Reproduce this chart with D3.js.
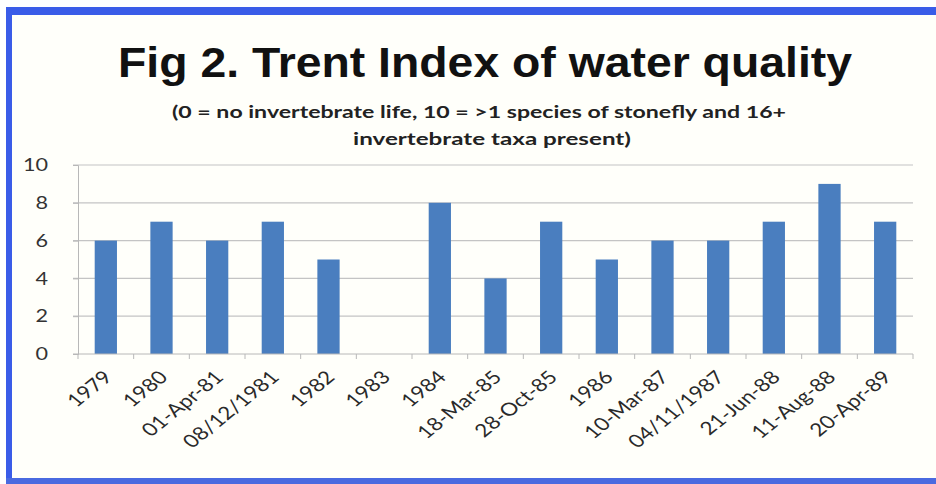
<!DOCTYPE html>
<html>
<head>
<meta charset="utf-8">
<script src="https://cdn.jsdelivr.net/npm/d3@7"></script>
<style>
  html, body { margin: 0; padding: 0; background: #ffffff; }
  svg { display: block; }
</style>
</head>
<body>
<svg id="chart" width="936" height="484"></svg>
<script>
const categories = ["1979", "1980", "01-Apr-81", "08/12/1981", "1982", "1983", "1984", "18-Mar-85", "28-Oct-85", "1986", "10-Mar-87", "04/11/1987", "21-Jun-88", "11-Aug-88", "20-Apr-89"];
const values = [6, 7, 6, 7, 5, null, 8, 4, 7, 5, 6, 6, 7, 9, 7];
const yTicks = [0, 2, 4, 6, 8, 10];
const titleText = "Fig 2. Trent Index of water quality";
const subtitleLines = ["(0 = no invertebrate life, 10 = >1 species of stonefly and 16+", "invertebrate taxa present)"];

const svg = d3.select("#chart");
const W = 936, H = 484;
const LABEL_FONT = "Lato, Calibri, sans-serif";

// frame
svg.append("rect").attr("x", 0).attr("y", 0).attr("width", W).attr("height", H).attr("fill", "#ffffff");
svg.append("rect").attr("x", 6).attr("y", 7).attr("width", W - 6).attr("height", 8).attr("fill", "#3a5ce8");
svg.append("rect").attr("x", 6).attr("y", 7).attr("width", 6).attr("height", H - 7).attr("fill", "#3a5ce8");
svg.append("rect").attr("x", 6).attr("y", 478).attr("width", W - 6).attr("height", 6).attr("fill", "#4a6ae0");
svg.append("rect").attr("x", 12).attr("y", 15).attr("width", W - 12).attr("height", 463).attr("fill", "#fffffa");

const plotL = 78, plotR = 913, plotT = 165, plotB = 354;
const x = d3.scaleBand().domain(categories).range([plotL, plotR]).paddingInner(0.6).paddingOuter(0.3);
const xTickScale = d3.scaleBand().domain(categories).range([plotL, plotR]);
const y = d3.scaleLinear().domain([0, 10]).range([plotB, plotT]);

// title
svg.append("text").attr("x", 485).attr("y", 77).attr("text-anchor", "middle")
  .attr("font-family", "Liberation Sans, Arial, sans-serif").attr("font-weight", "bold")
  .attr("font-size", 43).attr("fill", "#111")
  .attr("textLength", 734).attr("lengthAdjust", "spacingAndGlyphs").text(titleText);
const subW = [614, 278];
const subX = [479, 492];
subtitleLines.forEach((t, i) => {
  svg.append("text").attr("x", subX[i]).attr("y", 118 + i * 27).attr("text-anchor", "middle")
    .attr("font-family", LABEL_FONT).attr("font-weight", "bold")
    .attr("font-size", 17).attr("fill", "#222")
    .attr("textLength", subW[i]).attr("lengthAdjust", "spacingAndGlyphs").text(t);
});

// gridlines
svg.append("g").selectAll("line").data(yTicks.filter(d => d > 0)).join("line")
  .attr("x1", plotL - 5).attr("x2", plotR)
  .attr("y1", d => y(d)).attr("y2", d => y(d))
  .attr("stroke", "#c4c4c4").attr("stroke-width", 1.2);

// y axis
const yAxis = svg.append("g").attr("transform", `translate(${plotL},0)`)
  .call(d3.axisLeft(y).tickValues(yTicks).tickSize(5).tickPadding(30));
yAxis.select(".domain").attr("stroke", "#b8b8b8");
yAxis.selectAll(".tick line").attr("stroke", "#b8b8b8");
yAxis.selectAll(".tick text").attr("font-family", LABEL_FONT).attr("font-size", 18).attr("fill", "#333")
  .attr("transform", "scale(1.2,1)").attr("x", -30 / 1.2);

// bars
svg.append("g").selectAll("rect").data(categories.map((c, i) => ({ c, v: values[i] })).filter(d => d.v != null)).join("rect")
  .attr("x", d => x(d.c)).attr("width", x.bandwidth())
  .attr("y", d => y(d.v)).attr("height", d => y(0) - y(d.v))
  .attr("fill", "#4a7ebf");

// x axis
const xAxisG = svg.append("g").attr("transform", `translate(0,${plotB})`);
xAxisG.append("line").attr("x1", plotL - 5).attr("x2", plotR).attr("y1", 0).attr("y2", 0).attr("stroke", "#b8b8b8");
const bounds = categories.map(c => xTickScale(c)).concat([plotR]);
xAxisG.selectAll("line.tk").data(bounds).join("line").attr("class", "tk")
  .attr("x1", d => d).attr("x2", d => d).attr("y1", 0).attr("y2", 5).attr("stroke", "#b8b8b8");
xAxisG.selectAll("text").data(categories).join("text")
  .attr("transform", d => `translate(${xTickScale(d) + xTickScale.bandwidth() / 2 + 2},20) scale(1.25,1) rotate(-45)`)
  .attr("text-anchor", "end").attr("dy", "0.35em")
  .attr("font-family", LABEL_FONT).attr("font-size", 18).attr("fill", "#2a2a2a")
  .text(d => d);
</script>
</body>
</html>
